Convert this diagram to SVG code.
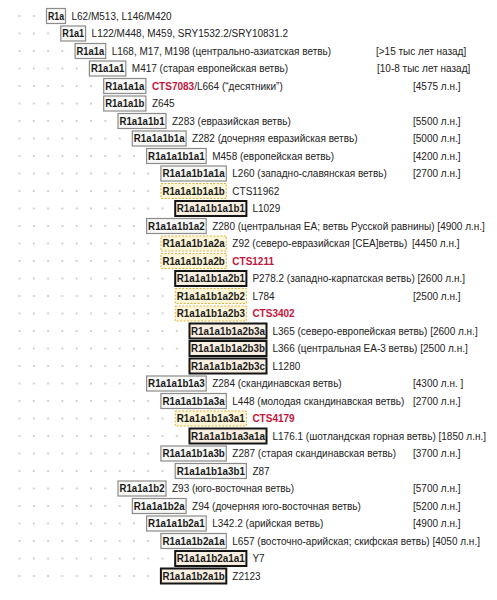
<svg xmlns="http://www.w3.org/2000/svg" width="497" height="600" viewBox="0 0 497 600">
<style>
.dots{stroke:#d2d2d2;stroke-width:2;stroke-dasharray:2 12.3;fill:none}
.g{fill:#f8f8f6;stroke:#8c8c8c;stroke-width:1.2}
.y{fill:#fdf5d6;stroke:#d6b548;stroke-width:1;stroke-dasharray:2 1.5}
.k{fill:#f8efe2;stroke:#151515;stroke-width:2}
.lb{font-family:"Liberation Sans",Arial,sans-serif;font-size:10.5px;font-weight:bold;fill:#1a1a1a}
.ds{font-family:"Liberation Sans",Arial,sans-serif;font-size:10px;fill:#222222}
.rd{fill:#c4163c;font-weight:bold}
</style>
<rect width="497" height="600" fill="#ffffff"/>
<g id="guides">
<line class="dots" x1="18.5" y1="16" x2="35" y2="16"/>
<line class="dots" x1="18.5" y1="33.5" x2="49.3" y2="33.5"/>
<line class="dots" x1="18.5" y1="51" x2="63.6" y2="51"/>
<line class="dots" x1="18.5" y1="68.5" x2="77.9" y2="68.5"/>
<line class="dots" x1="18.5" y1="86" x2="92.2" y2="86"/>
<line class="dots" x1="18.5" y1="103.5" x2="92.2" y2="103.5"/>
<line class="dots" x1="18.5" y1="121" x2="106.5" y2="121"/>
<line class="dots" x1="18.5" y1="138.5" x2="120.8" y2="138.5"/>
<line class="dots" x1="18.5" y1="156" x2="135.1" y2="156"/>
<line class="dots" x1="18.5" y1="173.5" x2="149.4" y2="173.5"/>
<line class="dots" x1="18.5" y1="191" x2="149.4" y2="191"/>
<line class="dots" x1="18.5" y1="208.5" x2="163.7" y2="208.5"/>
<line class="dots" x1="18.5" y1="226" x2="135.1" y2="226"/>
<line class="dots" x1="18.5" y1="243.5" x2="149.4" y2="243.5"/>
<line class="dots" x1="18.5" y1="261" x2="149.4" y2="261"/>
<line class="dots" x1="18.5" y1="278.5" x2="163.7" y2="278.5"/>
<line class="dots" x1="18.5" y1="296" x2="163.7" y2="296"/>
<line class="dots" x1="18.5" y1="313.5" x2="163.7" y2="313.5"/>
<line class="dots" x1="18.5" y1="331" x2="178" y2="331"/>
<line class="dots" x1="18.5" y1="348.5" x2="178" y2="348.5"/>
<line class="dots" x1="18.5" y1="366" x2="178" y2="366"/>
<line class="dots" x1="18.5" y1="383.5" x2="135.1" y2="383.5"/>
<line class="dots" x1="18.5" y1="401" x2="149.4" y2="401"/>
<line class="dots" x1="18.5" y1="418.5" x2="163.7" y2="418.5"/>
<line class="dots" x1="18.5" y1="436" x2="178" y2="436"/>
<line class="dots" x1="18.5" y1="453.5" x2="149.4" y2="453.5"/>
<line class="dots" x1="18.5" y1="471" x2="163.7" y2="471"/>
<line class="dots" x1="18.5" y1="488.5" x2="106.5" y2="488.5"/>
<line class="dots" x1="18.5" y1="506" x2="120.8" y2="506"/>
<line class="dots" x1="18.5" y1="523.5" x2="135.1" y2="523.5"/>
<line class="dots" x1="18.5" y1="541" x2="149.4" y2="541"/>
<line class="dots" x1="18.5" y1="558.5" x2="163.7" y2="558.5"/>
<line class="dots" x1="18.5" y1="576" x2="149.4" y2="576"/>
</g>
<g id="connectors"></g>
<g id="n-R1a"><rect class="g" x="46.5" y="8.5" width="19" height="15"/><text class="lb" x="48" y="19.7" textLength="16" lengthAdjust="spacingAndGlyphs">R1a</text><text class="ds" x="71.5" y="19.5">L62/M513, L146/M420</text></g>
<g id="n-R1a1"><rect class="g" x="60.8" y="26" width="24.8" height="15"/><text class="lb" x="62.3" y="37.2" textLength="21.8" lengthAdjust="spacingAndGlyphs">R1a1</text><text class="ds" x="91.6" y="37">L122/M448, M459, SRY1532.2/SRY10831.2</text></g>
<g id="n-R1a1a"><rect class="g" x="75.1" y="43.5" width="30.6" height="15"/><text class="lb" x="76.6" y="54.7" textLength="27.6" lengthAdjust="spacingAndGlyphs">R1a1a</text><text class="ds" x="111.7" y="54.5">L168, M17, M198 (центрально-азиатская ветвь)</text><text class="ds" x="376" y="54.5">[&gt;15 тыс лет назад]</text></g>
<g id="n-R1a1a1"><rect class="g" x="89.4" y="61" width="36.4" height="15"/><text class="lb" x="90.9" y="72.2" textLength="33.4" lengthAdjust="spacingAndGlyphs">R1a1a1</text><text class="ds" x="131.8" y="72">M417 (старая европейская ветвь)</text><text class="ds" x="377" y="72">[10-8 тыс лет назад]</text></g>
<g id="n-R1a1a1a"><rect class="g" x="103.7" y="78.5" width="42.2" height="15"/><text class="lb" x="105.2" y="89.7" textLength="39.2" lengthAdjust="spacingAndGlyphs">R1a1a1a</text><text class="ds" x="151.9" y="89.5"><tspan class="rd">CTS7083</tspan>/L664 (“десятники”)</text><text class="ds" x="413" y="89.5">[4575 л.н.]</text></g>
<g id="n-R1a1a1b"><rect class="g" x="103.7" y="96" width="42.2" height="15"/><text class="lb" x="105.2" y="107.2" textLength="39.2" lengthAdjust="spacingAndGlyphs">R1a1a1b</text><text class="ds" x="151.9" y="107">Z645</text></g>
<g id="n-R1a1a1b1"><rect class="g" x="118" y="113.5" width="48" height="15"/><text class="lb" x="119.5" y="124.7" textLength="45" lengthAdjust="spacingAndGlyphs">R1a1a1b1</text><text class="ds" x="172" y="124.5">Z283 (евразийская ветвь)</text><text class="ds" x="413" y="124.5">[5500 л.н.]</text></g>
<g id="n-R1a1a1b1a"><rect class="g" x="132.3" y="131" width="53.8" height="15"/><text class="lb" x="133.8" y="142.2" textLength="50.8" lengthAdjust="spacingAndGlyphs">R1a1a1b1a</text><text class="ds" x="192.1" y="142">Z282 (дочерняя евразийская ветвь)</text><text class="ds" x="413" y="142">[5000 л.н.]</text></g>
<g id="n-R1a1a1b1a1"><rect class="g" x="146.6" y="148.5" width="59.6" height="15"/><text class="lb" x="148.1" y="159.7" textLength="56.6" lengthAdjust="spacingAndGlyphs">R1a1a1b1a1</text><text class="ds" x="212.2" y="159.5">M458 (европейская ветвь)</text><text class="ds" x="413" y="159.5">[4200 л.н.]</text></g>
<g id="n-R1a1a1b1a1a"><rect class="g" x="160.9" y="166" width="65.4" height="15"/><text class="lb" x="162.4" y="177.2" textLength="62.4" lengthAdjust="spacingAndGlyphs">R1a1a1b1a1a</text><text class="ds" x="232.3" y="177">L260 (западно-славянская ветвь)</text><text class="ds" x="413" y="177">[2700 л.н.]</text></g>
<g id="n-R1a1a1b1a1b"><rect class="y" x="160.9" y="183.5" width="65.4" height="15"/><text class="lb" x="162.4" y="194.7" textLength="62.4" lengthAdjust="spacingAndGlyphs">R1a1a1b1a1b</text><text class="ds" x="232.3" y="194.5">CTS11962</text></g>
<g id="n-R1a1a1b1a1b1"><rect class="k" x="175.2" y="201" width="71.2" height="15"/><text class="lb" x="176.7" y="212.2" textLength="68.2" lengthAdjust="spacingAndGlyphs">R1a1a1b1a1b1</text><text class="ds" x="252.4" y="212">L1029</text></g>
<g id="n-R1a1a1b1a2"><rect class="g" x="146.6" y="218.5" width="59.6" height="15"/><text class="lb" x="148.1" y="229.7" textLength="56.6" lengthAdjust="spacingAndGlyphs">R1a1a1b1a2</text><text class="ds" x="212.2" y="229.5">Z280 (центральная ЕА; ветвь Русской равнины) [4900 л.н.]</text></g>
<g id="n-R1a1a1b1a2a"><rect class="y" x="160.9" y="236" width="65.4" height="15"/><text class="lb" x="162.4" y="247.2" textLength="62.4" lengthAdjust="spacingAndGlyphs">R1a1a1b1a2a</text><text class="ds" x="232.3" y="247">Z92 (северо-евразийская [СЕА]ветвь)</text><text class="ds" x="412" y="247">[4450 л.н.]</text></g>
<g id="n-R1a1a1b1a2b"><rect class="y" x="160.9" y="253.5" width="65.4" height="15"/><text class="lb" x="162.4" y="264.7" textLength="62.4" lengthAdjust="spacingAndGlyphs">R1a1a1b1a2b</text><text class="ds rd" x="232.3" y="264.5">CTS1211</text></g>
<g id="n-R1a1a1b1a2b1"><rect class="k" x="175.2" y="271" width="71.2" height="15"/><text class="lb" x="176.7" y="282.2" textLength="68.2" lengthAdjust="spacingAndGlyphs">R1a1a1b1a2b1</text><text class="ds" x="252.4" y="282">P278.2 (западно-карпатская ветвь) [2600 л.н.]</text></g>
<g id="n-R1a1a1b1a2b2"><rect class="y" x="175.2" y="288.5" width="71.2" height="15"/><text class="lb" x="176.7" y="299.7" textLength="68.2" lengthAdjust="spacingAndGlyphs">R1a1a1b1a2b2</text><text class="ds" x="252.4" y="299.5">L784</text><text class="ds" x="413" y="299.5">[2500 л.н.]</text></g>
<g id="n-R1a1a1b1a2b3"><rect class="y" x="175.2" y="306" width="71.2" height="15"/><text class="lb" x="176.7" y="317.2" textLength="68.2" lengthAdjust="spacingAndGlyphs">R1a1a1b1a2b3</text><text class="ds rd" x="252.4" y="317">CTS3402</text></g>
<g id="n-R1a1a1b1a2b3a"><rect class="k" x="189.5" y="323.5" width="77" height="15"/><text class="lb" x="191" y="334.7" textLength="74" lengthAdjust="spacingAndGlyphs">R1a1a1b1a2b3a</text><text class="ds" x="272.5" y="334.5">L365 (северо-европейская ветвь) [2600 л.н.]</text></g>
<g id="n-R1a1a1b1a2b3b"><rect class="k" x="189.5" y="341" width="77" height="15"/><text class="lb" x="191" y="352.2" textLength="74" lengthAdjust="spacingAndGlyphs">R1a1a1b1a2b3b</text><text class="ds" x="272.5" y="352">L366 (центральная ЕА-3 ветвь) [2500 л.н.]</text></g>
<g id="n-R1a1a1b1a2b3c"><rect class="k" x="189.5" y="358.5" width="77" height="15"/><text class="lb" x="191" y="369.7" textLength="74" lengthAdjust="spacingAndGlyphs">R1a1a1b1a2b3c</text><text class="ds" x="272.5" y="369.5">L1280</text></g>
<g id="n-R1a1a1b1a3"><rect class="g" x="146.6" y="376" width="59.6" height="15"/><text class="lb" x="148.1" y="387.2" textLength="56.6" lengthAdjust="spacingAndGlyphs">R1a1a1b1a3</text><text class="ds" x="212.2" y="387">Z284 (скандинавская ветвь)</text><text class="ds" x="413" y="387">[4300 л.н. ]</text></g>
<g id="n-R1a1a1b1a3a"><rect class="g" x="160.9" y="393.5" width="65.4" height="15"/><text class="lb" x="162.4" y="404.7" textLength="62.4" lengthAdjust="spacingAndGlyphs">R1a1a1b1a3a</text><text class="ds" x="232.3" y="404.5">L448 (молодая скандинавская ветвь)</text><text class="ds" x="413" y="404.5">[2700 л.н.]</text></g>
<g id="n-R1a1a1b1a3a1"><rect class="y" x="175.2" y="411" width="71.2" height="15"/><text class="lb" x="176.7" y="422.2" textLength="68.2" lengthAdjust="spacingAndGlyphs">R1a1a1b1a3a1</text><text class="ds rd" x="252.4" y="422">CTS4179</text></g>
<g id="n-R1a1a1b1a3a1a"><rect class="k" x="189.5" y="428.5" width="77" height="15"/><text class="lb" x="191" y="439.7" textLength="74" lengthAdjust="spacingAndGlyphs">R1a1a1b1a3a1a</text><text class="ds" x="272.5" y="439.5">L176.1 (шотландская горная ветвь) [1850 л.н.]</text></g>
<g id="n-R1a1a1b1a3b"><rect class="g" x="160.9" y="446" width="65.4" height="15"/><text class="lb" x="162.4" y="457.2" textLength="62.4" lengthAdjust="spacingAndGlyphs">R1a1a1b1a3b</text><text class="ds" x="232.3" y="457">Z287 (старая скандинавская ветвь)</text><text class="ds" x="413" y="457">[3700 л.н.]</text></g>
<g id="n-R1a1a1b1a3b1"><rect class="g" x="175.2" y="463.5" width="71.2" height="15"/><text class="lb" x="176.7" y="474.7" textLength="68.2" lengthAdjust="spacingAndGlyphs">R1a1a1b1a3b1</text><text class="ds" x="252.4" y="474.5">Z87</text></g>
<g id="n-R1a1a1b2"><rect class="g" x="118" y="481" width="48" height="15"/><text class="lb" x="119.5" y="492.2" textLength="45" lengthAdjust="spacingAndGlyphs">R1a1a1b2</text><text class="ds" x="172" y="492">Z93 (юго-восточная ветвь)</text><text class="ds" x="413" y="492">[5700 л.н.]</text></g>
<g id="n-R1a1a1b2a"><rect class="g" x="132.3" y="498.5" width="53.8" height="15"/><text class="lb" x="133.8" y="509.7" textLength="50.8" lengthAdjust="spacingAndGlyphs">R1a1a1b2a</text><text class="ds" x="192.1" y="509.5">Z94 (дочерняя юго-восточная ветвь)</text><text class="ds" x="413" y="509.5">[5200 л.н.]</text></g>
<g id="n-R1a1a1b2a1"><rect class="g" x="146.6" y="516" width="59.6" height="15"/><text class="lb" x="148.1" y="527.2" textLength="56.6" lengthAdjust="spacingAndGlyphs">R1a1a1b2a1</text><text class="ds" x="212.2" y="527">L342.2 (арийская ветвь)</text><text class="ds" x="413" y="527">[4900 л.н.]</text></g>
<g id="n-R1a1a1b2a1a"><rect class="g" x="160.9" y="533.5" width="65.4" height="15"/><text class="lb" x="162.4" y="544.7" textLength="62.4" lengthAdjust="spacingAndGlyphs">R1a1a1b2a1a</text><text class="ds" x="232.3" y="544.5">L657 (восточно-арийская; скифская ветвь) [4050 л.н.]</text></g>
<g id="n-R1a1a1b2a1a1"><rect class="k" x="175.2" y="551" width="71.2" height="15"/><text class="lb" x="176.7" y="562.2" textLength="68.2" lengthAdjust="spacingAndGlyphs">R1a1a1b2a1a1</text><text class="ds" x="252.4" y="562">Y7</text></g>
<g id="n-R1a1a1b2a1b"><rect class="k" x="160.9" y="568.5" width="65.4" height="15"/><text class="lb" x="162.4" y="579.7" textLength="62.4" lengthAdjust="spacingAndGlyphs">R1a1a1b2a1b</text><text class="ds" x="232.3" y="579.5">Z2123</text></g>
</svg>
